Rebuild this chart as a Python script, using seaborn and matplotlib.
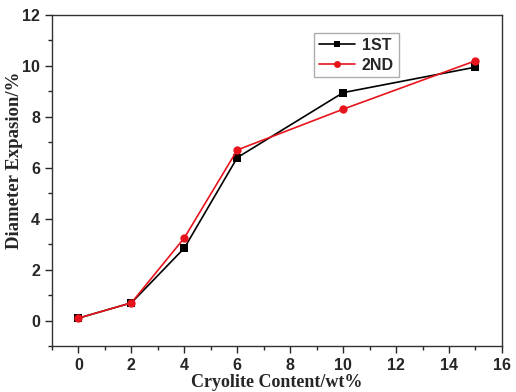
import matplotlib
matplotlib.use("Agg")
import matplotlib.pyplot as plt
import seaborn as sns
import pandas as pd
from matplotlib.ticker import MultipleLocator

content = [0, 2, 4, 6, 10, 15]
first = [0.1, 0.7, 2.85, 6.4, 8.95, 9.95]
second = [0.1, 0.7, 3.25, 6.7, 8.3, 10.2]

sns.set_style("ticks")
plt.rcParams['font.family'] = ['Liberation Sans', 'DejaVu Sans']

df = pd.DataFrame({'x': content * 2, 'y': first + second,
                   'run': ['1ST'] * len(content) + ['2ND'] * len(content)})

fig = plt.figure(figsize=(5.16, 3.92), dpi=100)
ax = fig.add_axes([0.1008, 0.117, 0.872, 0.845])

sns.lineplot(data=df, x='x', y='y', hue='run', style='run',
             palette={'1ST': 'black', '2ND': '#e8141c'},
             markers={'1ST': 's', '2ND': 'o'}, dashes=False,
             markersize=6, linewidth=1.2, markeredgewidth=0, ax=ax)

ax.set_xlim(-1, 16)
ax.set_ylim(-1, 12)
ax.xaxis.set_major_locator(MultipleLocator(2))
ax.xaxis.set_minor_locator(MultipleLocator(1))
ax.yaxis.set_major_locator(MultipleLocator(2))
ax.yaxis.set_minor_locator(MultipleLocator(1))
ax.tick_params(which='major', length=5, width=1, direction='out', labelsize=11.5)
ax.tick_params(which='minor', length=3, width=1, direction='out')
for lab in ax.get_xticklabels() + ax.get_yticklabels():
    lab.set_fontweight('bold')
for s in ax.spines.values():
    s.set_linewidth(1.0)
    s.set_color('#333333')

ax.set_xlabel('Cryolite Content/wt%', family='Liberation Serif',
              fontweight='bold', fontsize=13, labelpad=1)
ax.set_ylabel('Diameter Expasion/%', family='Liberation Serif',
              fontweight='bold', fontsize=13.5)
ax.yaxis.set_label_coords(-0.064, 0.562)

leg = ax.legend(loc='upper left', bbox_to_anchor=(0.582, 0.945), frameon=True,
                fancybox=False, edgecolor='#999999', handlelength=2.3,
                handletextpad=0.4, borderpad=0.3, labelspacing=0.3,
                borderaxespad=0, prop={'weight': 'bold', 'size': 11.5})
leg.get_frame().set_linewidth(1.0)
for h in leg.legend_handles:
    h.set_markersize(5)

fig.savefig('out.png', dpi=100)
